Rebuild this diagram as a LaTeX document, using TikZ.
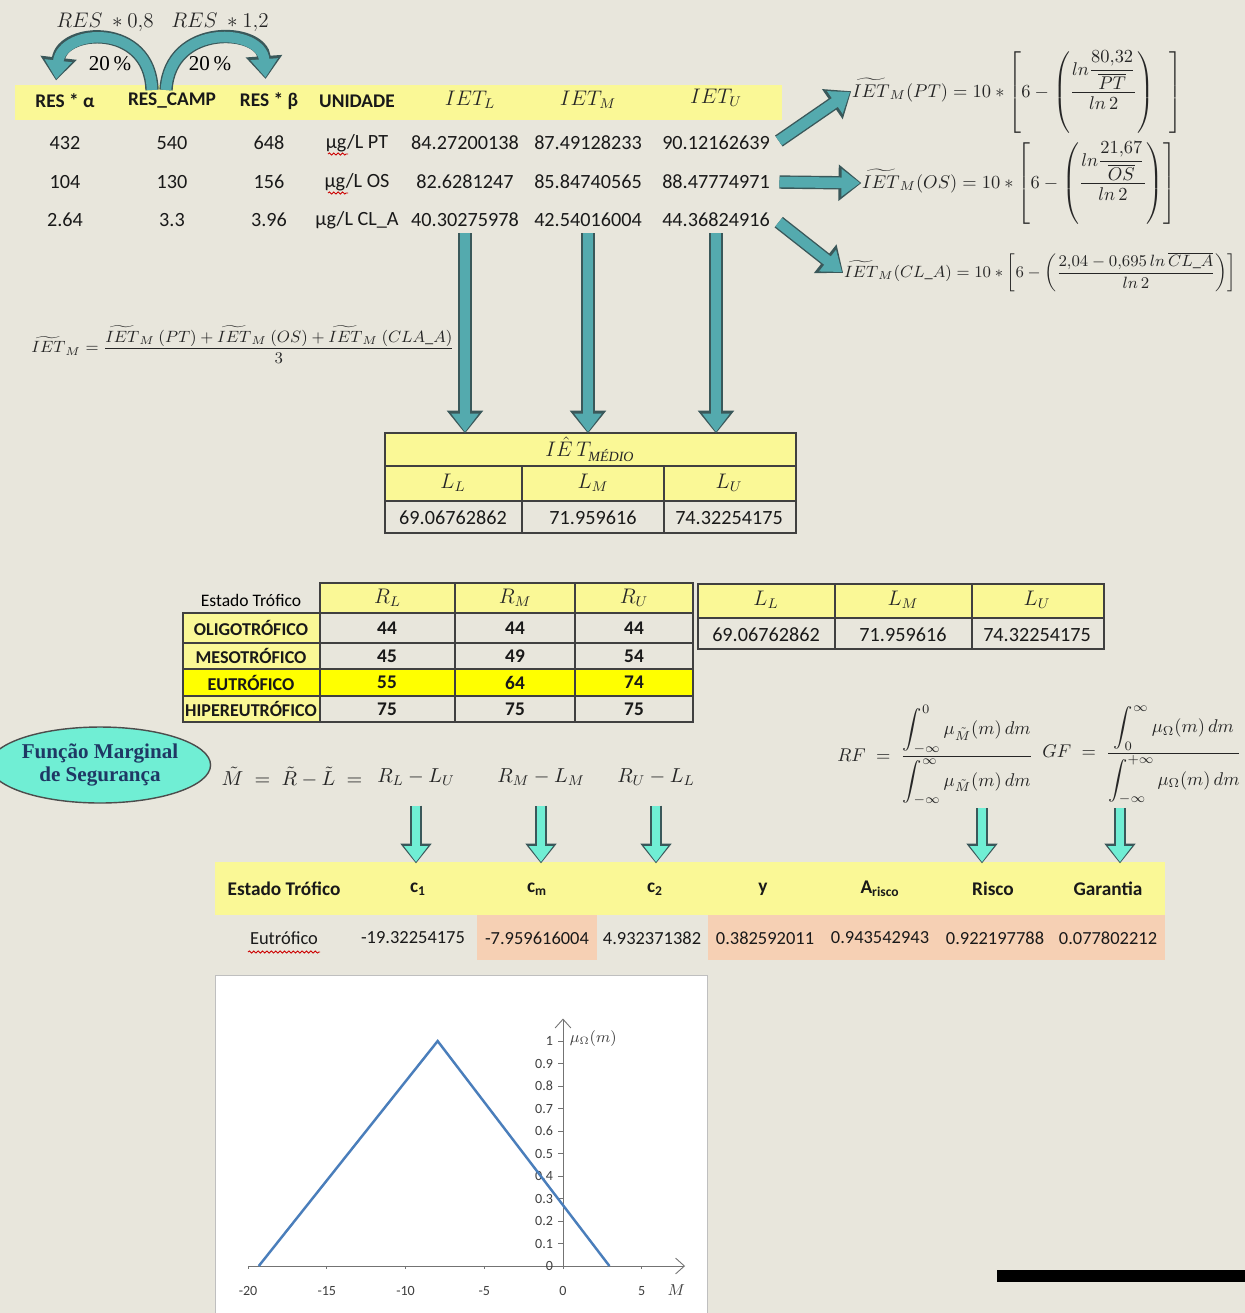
\RequirePackage{fix-cm}
\documentclass[tikz,border=0pt]{standalone}
\usepackage{amsmath}
\usepackage{fontspec}
\setmainfont{Carlito}
\newfontfamily\serifa{Liberation Serif}
\usetikzlibrary{arrows.meta,shapes.geometric,decorations.pathmorphing}
\definecolor{fundo}{RGB}{232,230,220}
\definecolor{amarelo}{RGB}{250,248,150}
\definecolor{amareloforte}{RGB}{255,255,0}
\definecolor{salmao}{RGB}{246,208,180}
\definecolor{azulpetroleo}{RGB}{84,170,174}
\definecolor{bordaseta}{RGB}{58,88,90}
\definecolor{aguamarinha}{RGB}{112,238,212}
\definecolor{linhagraf}{RGB}{74,126,187}
\definecolor{azulescuro}{RGB}{31,56,100}
\begin{document}
\begin{tikzpicture}[x=0.02cm, y=-0.02cm]
\tikzstyle{cab} = [font=\fontsize{11}{13}\selectfont\bfseries, text=black!90]
\tikzstyle{num} = [font=\fontsize{11.5}{13}\selectfont, text=black!90]
\tikzstyle{mat} = [font=\fontsize{12}{14}\selectfont, text=black!85]
\tikzstyle{formula} = [font=\fontsize{10.5}{13}\selectfont, text=black!85, inner sep=1pt]
\tikzstyle{grade} = [draw=black!75, line width=0.9pt]
\tikzstyle{rotulo} = [font=\fontsize{8}{9}\selectfont, text=black!75, inner sep=1pt]
\tikzstyle{setagrossa} = [preaction={draw=bordaseta, line width=7.6pt, shorten >=-0.8pt, -{Triangle[length=13pt, width=20pt]}}, draw=azulpetroleo, line width=6pt, -{Triangle[length=10.5pt, width=15pt]}]
\tikzstyle{setaclara} = [preaction={draw=bordaseta, line width=6.4pt, shorten >=-0.8pt, -{Triangle[length=11.2pt, width=17pt]}}, draw=aguamarinha, line width=5pt, -{Triangle[length=9pt, width=13pt]}]
\tikzstyle{ondulado} = [draw=red!80!black, line width=0.5pt, decorate, decoration={snake, amplitude=0.6pt, segment length=2.5pt}]

\useasboundingbox (0,0) rectangle (1245,1313);
\fill[fundo] (0,0) rectangle (1245,1313);

\node[fill=amarelo, inner sep=0pt, minimum width=15.34cm, minimum height=0.7cm, anchor=north west] (faixaTopo) at (15,85) {};
\node[cab] (hA) at (65,101) {RES * α};
\node[cab] (hB) at (172,101) {RES\_CAMP};
\node[cab] (hC) at (269,101) {RES * β};
\node[cab] (hD) at (357,101) {UNIDADE};
\node[mat] (hE) at (470,100) {$IET_L$};
\node[mat] (hF) at (588,100) {$IET_M$};
\node[mat] (hG) at (716,98) {$IET_U$};

\foreach \i/\py/\a/\b/\c/\u/\l/\m/\s in {1/143/432/540/648/{µg/L PT}/84.27200138/87.49128233/90.12162639, 2/182/104/130/156/{µg/L OS}/82.6281247/85.84740565/88.47774971, 3/220/2.64/3.3/3.96/{µg/L CL\_A}/40.30275978/42.54016004/44.36824916}
{
  \node[num] (v\i1) at (65,\py) {\a};
  \node[num] (v\i2) at (172,\py) {\b};
  \node[num] (v\i3) at (269,\py) {\c};
  \node[num] (v\i4) at (357,\py) {\u};
  \node[num] (v\i5) at (465,\py) {\l};
  \node[num] (v\i6) at (588,\py) {\m};
  \node[num] (v\i7) at (716,\py) {\s};
}
\draw[ondulado] (328,154) -- (348,154);
\draw[ondulado] (328,193) -- (348,193);

\node[mat] (rotA) at (105,22) {$RES\ \ast 0{,}8$};
\node[mat] (rotB) at (220,22) {$RES\ \ast 1{,}2$};
\node[font=\serifa\fontsize{12}{14}\selectfont] (pctA) at (110,64) {20\,\%};
\node[font=\serifa\fontsize{12}{14}\selectfont] (pctB) at (210,64) {20\,\%};
\coordinate (arcoE) at (152,90);
\coordinate (arcoD) at (166,90);
\draw[setagrossa] (arcoE) .. controls (150,22) and (62,28) .. ([xshift=-5pt,yshift=5pt]hA.north);
\draw[setagrossa] (arcoD) .. controls (170,22) and (262,28) .. ([xshift=-2pt,yshift=5pt]hC.north);

\node[formula, anchor=west] (fPT) at (850,92) {$\displaystyle \widetilde{IET}_M(PT) = 10 \ast \left[6 - \left(\frac{ln\dfrac{80{,}32}{\overline{PT}}}{ln\,2}\right)\;\;\;\right]$};
\node[formula, anchor=west] (fOS) at (860,183) {$\displaystyle \widetilde{IET}_M(OS) = 10 \ast \left[6 - \left(\frac{ln\dfrac{21{,}67}{\overline{OS}}}{ln\,2}\right)\right]$};
\node[formula, anchor=west, font=\fontsize{9.3}{12}\selectfont] (fCL) at (842,272) {$\displaystyle \widetilde{IET}_M(CL\_A) = 10 \ast \left[6 - \left(\frac{2{,}04 - 0{,}695\, ln\, \overline{CL\_A}}{ln\,2}\right)\right]$};
\draw[setagrossa, shorten <=2pt] (v17.east) -- (fPT.west);
\draw[setagrossa, shorten <=2pt] (v27.east) -- (fOS.west);
\draw[setagrossa, shorten <=2pt] (v37.east) -- (fCL.west);

\node[formula, font=\fontsize{9.3}{12}\selectfont] (mediaF) at (243,345) {$\widetilde{IET}_M = \dfrac{\widetilde{IET}_M\ (PT) + \widetilde{IET}_M\ (OS) + \widetilde{IET}_M\ (CLA\_A)}{3}$};

\fill[amarelo] (384,432) rectangle (795,501);
\node[grade, inner sep=0pt, minimum width=8.22cm, minimum height=2cm, anchor=north west] (tabMed) at (384,432) {};
\draw[grade] (384,466) -- (795,466);
\draw[grade] (384,501) -- (795,501);
\draw[grade] (522,466) -- (522,532);
\draw[grade] (664,466) -- (664,532);
\node[mat] (medT) at (590,449) {$I\hat{E}\,T_{\text{\serifa\itshape MÉDIO}}$};
\node[mat] (mL) at (453,483) {$L_L$};
\node[mat] (mM) at (593,483) {$L_M$};
\node[mat] (mU) at (729,483) {$L_U$};
\node[num] (mv1) at (453,518) {69.06762862};
\node[num] (mv2) at (593,518) {71.959616};
\node[num] (mv3) at (729,518) {74.32254175};
\draw[setagrossa] (v35.south) -- (v35.south |- tabMed.north);
\draw[setagrossa] (v36.south) -- (v36.south |- tabMed.north);
\draw[setagrossa] (v37.south) -- (v37.south |- tabMed.north);

\node[font=\fontsize{10}{12}\selectfont] (estT) at (251,600) {Estado Trófico};
\foreach \xa/\xb/\t [count=\k] in {320/455/R_L, 455/575/R_M, 575/693/R_U}
{
  \filldraw[grade, fill=amarelo] (\xa,583) rectangle (\xb,613);
  \node[mat] (rH\k) at ({(\xa+\xb)/2},598) {$\t$};
}
\foreach \nome/\a/\b/\c/\ya/\yb/\corA/\corB [count=\k] in {OLIGOTRÓFICO/44/44/44/613/643/amarelo/none, MESOTRÓFICO/45/49/54/643/669/amarelo/none, EUTRÓFICO/55/64/74/669/696/amareloforte/amareloforte, HIPEREUTRÓFICO/75/75/75/696/722/amarelo/none}
{
  \filldraw[grade, fill=\corA] (183,\ya) rectangle (320,\yb);
  \filldraw[grade, fill=\corB] (320,\ya) rectangle (455,\yb);
  \filldraw[grade, fill=\corB] (455,\ya) rectangle (575,\yb);
  \filldraw[grade, fill=\corB] (575,\ya) rectangle (693,\yb);
  \node[cab, font=\fontsize{10.3}{12}\selectfont\bfseries] (eN\k) at (251,{(\ya+\yb)/2}) {\nome};
  \node[cab] (eA\k) at (387,{(\ya+\yb)/2}) {\a};
  \node[cab] (eB\k) at (515,{(\ya+\yb)/2}) {\b};
  \node[cab] (eC\k) at (634,{(\ya+\yb)/2}) {\c};
}

\fill[amarelo] (697,583) rectangle (1103,618);
\node[grade, inner sep=0pt, minimum width=8.12cm, minimum height=1.3cm, anchor=north west] (tabL) at (697,583) {};
\draw[grade] (697,618) -- (1103,618);
\draw[grade] (835,583) -- (835,648);
\draw[grade] (972,583) -- (972,648);
\node[mat] (lL) at (766,600) {$L_L$};
\node[mat] (lM) at (903,600) {$L_M$};
\node[mat] (lU) at (1037,600) {$L_U$};
\node[num] (lv1) at (766,635) {69.06762862};
\node[num] (lv2) at (903,635) {71.959616};
\node[num] (lv3) at (1037,635) {74.32254175};

\node[ellipse, draw=black!70, line width=0.8pt, fill=aguamarinha, minimum width=3.8cm, minimum height=1.52cm, align=center, inner sep=0pt, text=azulescuro, font=\serifa\bfseries\fontsize{12}{13.5}\selectfont] (funcao) at (100,765) {Função Marginal\\de Segurança};

\node[formula, font=\fontsize{11.5}{14}\selectfont] (mgE) at (292,777) {$\tilde{M} \;=\; \tilde{R} - \tilde{L} \;=$};
\node[mat, font=\fontsize{11.5}{14}\selectfont] (mg1) at (416,777) {$R_L - L_U$};
\node[mat, font=\fontsize{11.5}{14}\selectfont] (mg2) at (541,777) {$R_M - L_M$};
\node[mat, font=\fontsize{11.5}{14}\selectfont] (mg3) at (656,777) {$R_U - L_L$};

\node[formula] (rf) at (935,755) {$RF \;=\; \dfrac{\displaystyle\int_{-\infty}^{0}\mu_{\tilde{M}}(m)\,dm}{\displaystyle\int_{-\infty}^{\infty}\mu_{\tilde{M}}(m)\,dm}$};
\node[formula] (gf) at (1142,755) {$GF \;=\; \dfrac{\displaystyle\int_{0}^{\infty}\mu_{\Omega}(m)\,dm}{\displaystyle\int_{-\infty}^{+\infty}\mu_{\Omega}(m)\,dm}$};

\node[fill=amarelo, inner sep=0pt, minimum width=19cm, minimum height=1.06cm, anchor=north west] (faixa) at (215,862) {};
\fill[salmao] (477,915) rectangle (597,960);
\fill[salmao] (708,915) rectangle (1165,960);
\foreach \px/\t [count=\k] in {284/Estado Trófico, 418/c\textsubscript{1}, 537/c\textsubscript{m}, 655/c\textsubscript{2}, 763/y, 880/A\textsubscript{risco}, 993/Risco, 1108/Garantia}
  \node[cab] (bh\k) at (\px,889) {\t};
\foreach \px/\t [count=\k] in {284/Eutrófico, 413/-19.32254175, 537/-7.959616004, 652/4.932371382, 765/0.382592011, 880/0.943542943, 995/0.922197788, 1108/0.077802212}
  \node[num, font=\fontsize{10.5}{12}\selectfont] (bv\k) at (\px,938) {\t};
\draw[ondulado] (248,952) -- (320,952);

\coordinate (rfS) at (982,808);
\coordinate (gfS) at (1120,808);
\draw[setaclara] ([yshift=-8pt]mg1.south) -- (mg1.south |- faixa.north);
\draw[setaclara] ([yshift=-8pt]mg2.south) -- (mg2.south |- faixa.north);
\draw[setaclara] ([yshift=-8pt]mg3.south) -- (mg3.south |- faixa.north);
\draw[setaclara] (rfS) -- (rfS |- faixa.north);
\draw[setaclara] (gfS) -- (gfS |- faixa.north);

\filldraw[fill=white, draw=black!25] (215,975) rectangle (707,1320);
\begin{scope}[shift={(563,1266)}, x=0.315cm, y=4.5cm]
  \draw[black!55, line width=0.5pt, -{Straight Barb[length=5pt, width=9pt]}] (-20,0) -- (7.75,0);
  \draw[black!55, line width=0.5pt, -{Straight Barb[length=5pt, width=9pt]}] (0,0) -- (0,1.1);
  \foreach \t [count=\k] in {-20,-15,-10,-5,0,5}
  {
    \draw[black!55] (\t,0) -- (\t,-0.015);
    \node[rotulo] (tx\k) at (\t,-0.11) {\t};
  }
  \foreach \v [count=\k] in {0,0.1,0.2,0.3,0.4,0.5,0.6,0.7,0.8,0.9,1}
  {
    \draw[black!55] (0,\v) -- (-0.3,\v);
    \node[rotulo, anchor=east] (ty\k) at (-0.5,\v) {\v};
  }
  \node[rotulo, anchor=west, font=\fontsize{9}{10}\selectfont] (rotY) at (0.3,1.01) {$\mu_{\Omega}(m)$};
  \node[rotulo, font=\fontsize{9}{10}\selectfont] (rotX) at (7.2,-0.107) {$M$};
  \draw[linhagraf, line width=1.4pt] (-19.32,0) -- (-7.96,1) -- (2.95,0);
\end{scope}

\fill[black] (997,1270) rectangle (1245,1282);
\end{tikzpicture}
\end{document}
